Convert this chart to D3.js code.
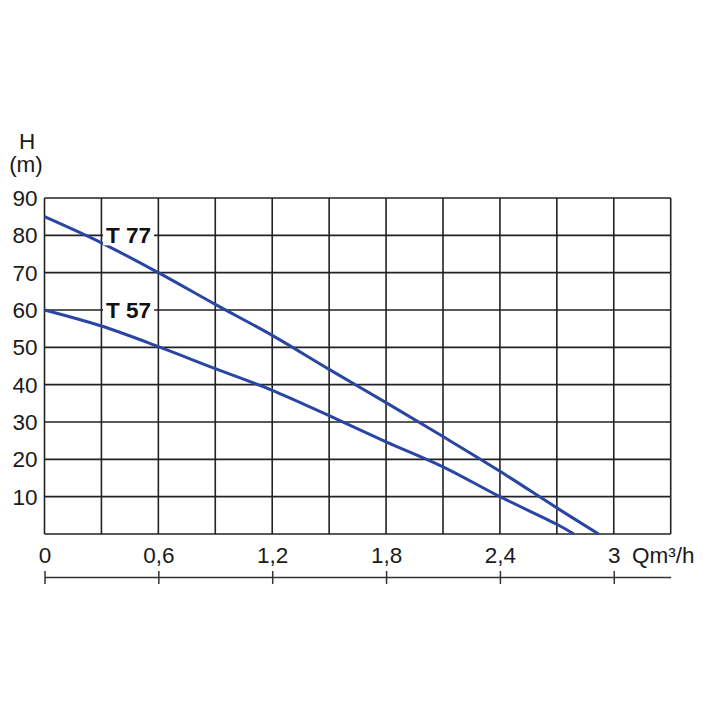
<!DOCTYPE html>
<html><head><meta charset="utf-8">
<script src="https://cdn.jsdelivr.net/npm/d3@7"></script>
<style>body{margin:0;background:#fff;} svg{display:block;font-family:"Liberation Sans",Arial,Helvetica,sans-serif;}</style>
</head><body><svg id="c" width="720" height="720"></svg>
<script>
// ---- data ----
const flowQ = [0, 0.3, 0.6, 0.9, 1.2, 1.5, 1.8, 2.1, 2.4, 2.7];
const headT77 = [85, 78, 70, 61.5, 53.2, 44.1, 35.2, 26.1, 16.8, 7];
const endT77 = [2.92, 0];
const headT57 = [60, 55.7, 50.2, 44.3, 38.5, 31.7, 24.7, 18, 10, 2.6];
const endT57 = [2.79, 0];
const seriesNames = ["T 77", "T 57"];
const labelAnchor = [[0.443, 80], [0.443, 60]];
const gridXValues = [0, 0.3, 0.6, 0.9, 1.2, 1.5, 1.8, 2.1, 2.4, 2.7, 3.0, 3.3];
const gridYValues = [0, 10, 20, 30, 40, 50, 60, 70, 80, 90];
const yTickValues = [10, 20, 30, 40, 50, 60, 70, 80, 90];
const xTickValues = [0, 0.6, 1.2, 1.8, 2.4, 3];
const xTickLabels = ["0", "0,6", "1,2", "1,8", "2,4", "3"];
const yTitle = ["H", "(m)"];
const xTitle = "Qm³/h";

// ---- drawing ----
const svg = d3.select("#c");
const x = d3.scaleLinear().domain([0, 3.3]).range([44.5, 670.7]);
const y = d3.scaleLinear().domain([0, 90]).range([534, 198]);
const gridColor = "#222";
const textColor = "#1a1a1a";
const blue = "#2a45a2";
const fs = 22.5;

const grid = svg.append("g");
grid.selectAll("line.v").data(gridXValues).join("line")
  .attr("x1", d => x(d)).attr("x2", d => x(d))
  .attr("y1", y(0)).attr("y2", y(90))
  .attr("stroke", gridColor).attr("stroke-width", 1.6);
grid.selectAll("line.h").data(gridYValues).join("line")
  .attr("x1", x(0)).attr("x2", x(3.3))
  .attr("y1", d => y(d)).attr("y2", d => y(d))
  .attr("stroke", gridColor).attr("stroke-width", 1.6);

// y tick labels
svg.append("g").selectAll("text").data(yTickValues).join("text")
  .attr("x", 37.5).attr("y", d => y(d)).attr("dy", "0.36em")
  .attr("text-anchor", "end").attr("font-size", fs).attr("fill", textColor)
  .text(d => d);

// y title
svg.append("text").attr("x", 27).attr("y", 149).attr("text-anchor", "middle")
  .attr("font-size", fs).attr("fill", textColor).text(yTitle[0]);
svg.append("text").attr("x", 26).attr("y", 172).attr("text-anchor", "middle")
  .attr("font-size", fs).attr("fill", textColor).text(yTitle[1]);

// curves
const line = d3.line().x(d => x(d[0])).y(d => y(d[1])).curve(d3.curveCatmullRom);
const s77 = flowQ.map((q, i) => [q, headT77[i]]).concat([endT77]);
const s57 = flowQ.map((q, i) => [q, headT57[i]]).concat([endT57]);
svg.append("g").selectAll("path").data([s77, s57]).join("path")
  .attr("d", line).attr("fill", "none").attr("stroke", blue).attr("stroke-width", 3);

// series labels with white knockout
const lab = svg.append("g").selectAll("g").data(seriesNames).join("g");
lab.append("rect")
  .attr("x", (d, i) => x(labelAnchor[i][0]) - 25.5).attr("y", (d, i) => y(labelAnchor[i][1]) - 10)
  .attr("width", 51).attr("height", 20).attr("fill", "#fff");
lab.append("text")
  .attr("x", (d, i) => x(labelAnchor[i][0])).attr("y", (d, i) => y(labelAnchor[i][1]))
  .attr("dy", "0.36em").attr("text-anchor", "middle")
  .attr("font-size", 22.5).attr("font-weight", "bold").attr("fill", "#111")
  .text(d => d);

// x axis (below chart)
const axY = 577;
const ax = svg.append("g").attr("transform", `translate(0,${axY})`)
  .call(d3.axisTop(x).tickValues(xTickValues).tickFormat((d, i) => xTickLabels[i])
    .tickSizeInner(6).tickSizeOuter(0).tickPadding(8));
ax.select(".domain").attr("stroke", "#333").attr("stroke-width", 1.5);
ax.selectAll(".tick line").attr("stroke", "#333").attr("stroke-width", 1.5);
ax.selectAll(".tick").append("line").attr("y1", 0).attr("y2", 7)
  .attr("stroke", "#333").attr("stroke-width", 1.5);
ax.selectAll(".tick text").attr("font-size", fs).attr("fill", textColor)
  .attr("font-family", "'Liberation Sans',Arial,sans-serif");
svg.append("text").attr("x", 632).attr("y", 563).attr("font-size", fs)
  .attr("fill", textColor).text(xTitle);
</script></body></html>
